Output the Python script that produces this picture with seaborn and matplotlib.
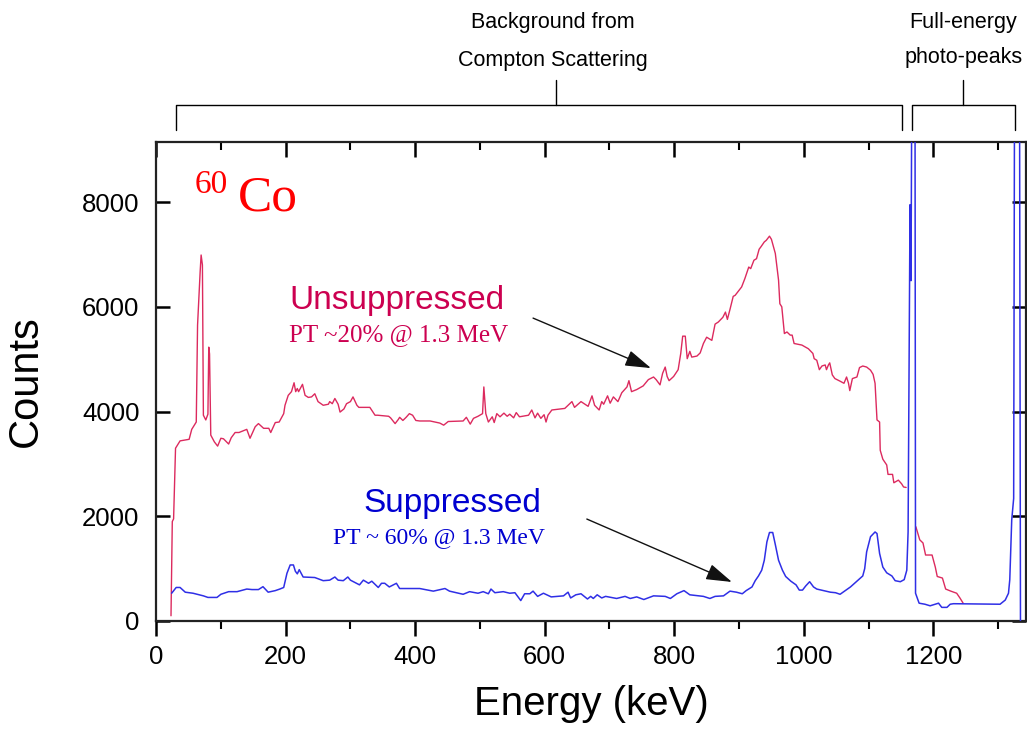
import numpy as np
import pandas as pd
import matplotlib
matplotlib.use("Agg")
import matplotlib.pyplot as plt
import matplotlib.transforms as mtransforms
import seaborn as sns

# ---------------- data ----------------
unsup_energy = [23, 25, 27, 30, 37, 51, 55, 62, 64, 68, 69.5, 71.5, 73, 76.7, 80, 81.3, 82.5, 84.4, 90, 95,
                100, 104, 112, 116, 122, 128, 140, 145, 153, 158, 166, 174, 177, 184, 190, 197, 199, 204, 209, 213,
                215.5, 218, 220, 226, 230, 235, 240, 245, 250, 258, 266, 268, 272, 276, 281, 284, 290, 294, 300, 304,
                310, 313, 330, 338, 342, 359, 362, 369, 374, 376, 381, 386, 391, 396, 401, 407, 423, 438, 444, 451,
                474, 479, 485, 490, 497, 504, 506, 509, 513, 519, 522, 526, 531, 537, 542, 546, 552, 556, 561, 575,
                580, 585, 589, 594, 599, 602, 605, 611, 631, 642, 646, 656, 662, 667, 673, 677, 684, 688, 691, 697,
                701, 706, 713, 719, 727, 730, 734, 742, 752, 760, 768, 772, 778, 782, 786, 789, 792, 799, 806, 810,
                813, 817, 820, 824, 827, 835, 840, 845, 850, 858, 863, 868, 875, 879, 882, 886, 891, 894, 904, 909,
                915, 918, 923, 927, 931, 934, 939, 942, 947, 950, 956, 961, 963, 966, 970, 974, 979, 982, 985, 997,
                1007, 1014, 1016, 1020, 1024, 1028, 1033, 1035, 1038, 1040, 1044, 1048, 1056, 1062, 1066, 1069, 1071,
                1075, 1082, 1086, 1091, 1097, 1103, 1107, 1110, 1113, 1117, 1118, 1122, 1128, 1130, 1137, 1139, 1146,
                1151, 1154, 1158]
unsup_counts = [100, 1900, 1950, 3300, 3440, 3470, 3660, 3800, 5650, 6670, 6990, 6800, 3930, 3840, 3950, 5230, 5100, 3550, 3420, 3340,
                3490, 3480, 3380, 3500, 3600, 3600, 3660, 3490, 3710, 3770, 3680, 3680, 3600, 3790, 3800, 3960, 4120, 4310, 4380, 4550,
                4380, 4440, 4380, 4520, 4310, 4270, 4280, 4340, 4190, 4120, 4140, 4190, 4150, 4250, 4140, 3990, 4050, 4150, 4190, 4280,
                4120, 4080, 4080, 3930, 3930, 3910, 3880, 3770, 3850, 3890, 3830, 3890, 3960, 3930, 3830, 3820, 3820, 3780, 3740, 3810,
                3820, 3890, 3760, 3870, 3910, 3960, 4470, 3960, 3800, 3900, 3790, 3960, 3900, 3970, 3910, 3950, 3880, 3980, 3900, 3930,
                4030, 3880, 3970, 3870, 3940, 3800, 3930, 4030, 4060, 4190, 4080, 4190, 4140, 4100, 4300, 4120, 4030, 4190, 4140, 4300,
                4160, 4280, 4190, 4360, 4470, 4590, 4380, 4420, 4490, 4610, 4660, 4610, 4510, 4730, 4850, 4670, 4590, 4670, 4800, 5110,
                5440, 5440, 5010, 5150, 5040, 5060, 5120, 5300, 5420, 5360, 5670, 5710, 5800, 5900, 5760, 5950, 6200, 6220, 6380, 6540,
                6760, 6730, 6890, 6920, 7100, 7150, 7240, 7270, 7350, 7290, 7020, 6510, 6060, 6000, 5490, 5520, 5460, 5460, 5300, 5270,
                5200, 5110, 5010, 4980, 4800, 4870, 4890, 4800, 4890, 4930, 4700, 4630, 4580, 4540, 4660, 4540, 4400,
                4630, 4660, 4840, 4870, 4850, 4790, 4710, 4540, 3840, 3800, 3260, 3090, 2980, 2800, 2800, 2640, 2690,
                2620, 2560, 2550]

unsup_tail_energy = [1173, 1179, 1184, 1188, 1198, 1203, 1206, 1214, 1219, 1227, 1236, 1241, 1246]
unsup_tail_counts = [1800, 1550, 1490, 1260, 1260, 1030, 850, 820, 610, 570, 530, 440, 340]

sup_energy = [24, 31, 37, 45, 57, 73, 80, 94, 100, 112, 125, 140, 148, 158, 165, 173, 184, 191, 197, 202,
              207, 212, 215, 218, 221, 224, 227, 245, 258, 268, 276, 281, 289, 296, 300, 314, 320, 328, 333, 343,
              348, 353, 360, 371, 376, 389, 407, 428, 446, 453, 474, 484, 497, 505, 513, 517, 523, 536, 546, 554,
              563, 569, 577, 582, 589, 598, 610, 629, 636, 640, 648, 656, 661, 666, 671, 675, 681, 688, 694, 711,
              724, 732, 742, 753, 768, 786, 794, 804, 815, 824, 845, 855, 863, 876, 886, 896, 905, 911, 920, 925,
              930, 935, 939, 943, 947, 952, 956, 961, 967, 972, 980, 988, 993, 998, 1003, 1009, 1015, 1020, 1041, 1049,
              1056, 1064, 1072, 1083, 1091, 1094, 1097, 1103, 1110, 1113, 1117, 1122, 1128, 1136, 1141, 1149, 1155, 1159,
              1161, 1162.5, 1164, 1165.5, 1168, 1170, 1172.5, 1178, 1187, 1195, 1203, 1208, 1213, 1221, 1226, 1231,
              1303, 1311, 1316, 1318, 1321, 1324, 1327, 1331, 1334.5]
sup_counts = [530, 640, 640, 550, 530, 480, 450, 450, 510, 560, 560, 610, 600, 600, 655, 550, 580, 610, 640, 910,
              1070, 1070, 950, 900, 980, 910, 840, 830, 770, 780, 840, 780, 770, 840, 780, 690, 780, 720, 760, 640,
              720, 720, 650, 720, 620, 620, 620, 570, 620, 570, 510, 560, 530, 560, 520, 610, 540, 560, 530, 540,
              390, 520, 520, 570, 470, 530, 460, 480, 550, 440, 500, 520, 470, 420, 470, 430, 500, 440, 470, 430,
              470, 430, 460, 410, 480, 470, 430, 520, 580, 500, 470, 430, 470, 480, 570, 550, 520, 580, 650, 770,
              860, 970, 1160, 1510, 1690, 1690, 1460, 1160, 970, 850, 760, 690, 590, 590, 670, 750, 650, 610, 550, 540,
              510, 580, 650, 770, 860, 1000, 1320, 1610, 1700, 1670, 1290, 1030, 920, 860, 770, 750, 790, 970,
              1700, 5000, 7950, 6500, 14000, 30000, 530, 340, 320, 290, 320, 340, 260, 260, 320, 330,
              320, 400, 530, 790, 1930, 2340, 20000, 25000, 0]

x_ticks = [0, 200, 400, 600, 800, 1000, 1200]
y_ticks = [0, 2000, 4000, 6000, 8000]

# ---------------- style ----------------
sns.set_style("ticks")
plt.rcParams['font.family'] = ['Liberation Sans', 'DejaVu Sans']
plt.rcParams['text.color'] = 'black'
plt.rcParams['axes.labelcolor'] = 'black'
plt.rcParams['xtick.color'] = 'black'
plt.rcParams['ytick.color'] = 'black'
plt.rcParams['axes.edgecolor'] = 'black'

RED_LINE = '#dc2a5e'
RED_TEXT = '#cc0050'
BLUE_LINE = '#2f2fe6'
BLUE_TEXT = '#0000d0'

fig = plt.figure(figsize=(10.27, 7.31), dpi=100)
ax = fig.add_axes([0.152, 0.1505, 0.847, 0.655])

unsup_df = pd.DataFrame({'energy': unsup_energy + unsup_tail_energy,
                         'counts': unsup_counts + unsup_tail_counts,
                         'seg': [0] * len(unsup_energy) + [1] * len(unsup_tail_energy)})
sup_df = pd.DataFrame({'energy': sup_energy, 'counts': sup_counts})

sns.lineplot(data=unsup_df, x='energy', y='counts', units='seg', estimator=None, sort=False,
             color=RED_LINE, lw=1.0, ax=ax, zorder=2)
sns.lineplot(data=sup_df, x='energy', y='counts', estimator=None, sort=False,
             color=BLUE_LINE, lw=1.1, ax=ax, zorder=3)

ax.set_xlim(0, 1343)
ax.set_ylim(0, 9145)
ax.set_xticks(x_ticks)
ax.set_xticks(np.arange(100, 1343, 200), minor=True)
ax.set_yticks(y_ticks)
ax.tick_params(axis='x', which='major', direction='out', length=11, width=1.8, labelsize=18.5, pad=6,
               top=True, bottom=True, colors='black')
ax.tick_params(axis='x', which='minor', direction='out', length=6, width=1.5, top=True, bottom=True)
ax.tick_params(axis='y', which='major', direction='in', length=10, width=1.8, labelsize=18.5, pad=12,
               left=True, right=True, colors='black')
# top ticks point inward
for t in ax.xaxis.get_major_ticks() + ax.xaxis.get_minor_ticks():
    t.tick2line.set_marker(matplotlib.lines.TICKDOWN)
for sp in ['left', 'right', 'top', 'bottom']:
    ax.spines[sp].set_linewidth(1.6)
    ax.spines[sp].set_color('#222222')

ax.set_xlabel('Energy (keV)', fontsize=29, labelpad=12)
ax.set_ylabel('Counts', fontsize=30, labelpad=26)

# ---------------- annotations ----------------
ax.text(60, 8170, '60', family='Liberation Serif', fontsize=24, color='#ff0000', va='baseline', ha='left')
ax.text(127, 7846, 'Co', family='Liberation Serif', fontsize=37, color='#ff0000', va='baseline', ha='left')

ax.text(372, 6128, 'Unsuppressed', fontsize=24, color=RED_TEXT, ha='center', va='center')
ax.text(374, 5460, 'PT ~20% @ 1.3 MeV', family='Liberation Serif', fontsize=18, color=RED_TEXT,
        ha='center', va='center')
ax.text(457, 2253, 'Suppressed', fontsize=24, color=BLUE_TEXT, ha='center', va='center')
ax.text(437, 1585, 'PT ~ 60% @ 1.3 MeV', family='Liberation Serif', fontsize=17, color=BLUE_TEXT,
        ha='center', va='center')

arrow_kw = dict(arrowstyle='-|>,head_length=0.8,head_width=0.25', color='#111111', lw=1.0,
                mutation_scale=20, shrinkA=0, shrinkB=0)
ax.annotate('', xy=(764, 4830), xytext=(582, 5785), arrowprops=arrow_kw)
ax.annotate('', xy=(889, 745), xytext=(665, 1947), arrowprops=arrow_kw)

# brackets above the axes
trans = mtransforms.blended_transform_factory(ax.transData, ax.transAxes)
y_h, y_low, y_top = 1.077, 1.025, 1.129
for (x0, x1, xc) in [(30, 1152, 617), (1167, 1326, 1246)]:
    ax.plot([x0, x0, x1, x1], [y_low, y_h, y_h, y_low], transform=trans, color='black', lw=1.0, clip_on=False)
    ax.plot([xc, xc], [y_h, y_top], transform=trans, color='black', lw=1.0, clip_on=False)

ax.text(612, 1.2505, 'Background from', transform=trans, fontsize=15.5, ha='center', va='center')
ax.text(612, 1.171, 'Compton Scattering', transform=trans, fontsize=15.5, ha='center', va='center')
ax.text(1246, 1.2505, 'Full-energy', transform=trans, fontsize=15.5, ha='center', va='center')
ax.text(1246, 1.176, 'photo-peaks', transform=trans, fontsize=15.5, ha='center', va='center')

fig.savefig('out.png', dpi=100)
